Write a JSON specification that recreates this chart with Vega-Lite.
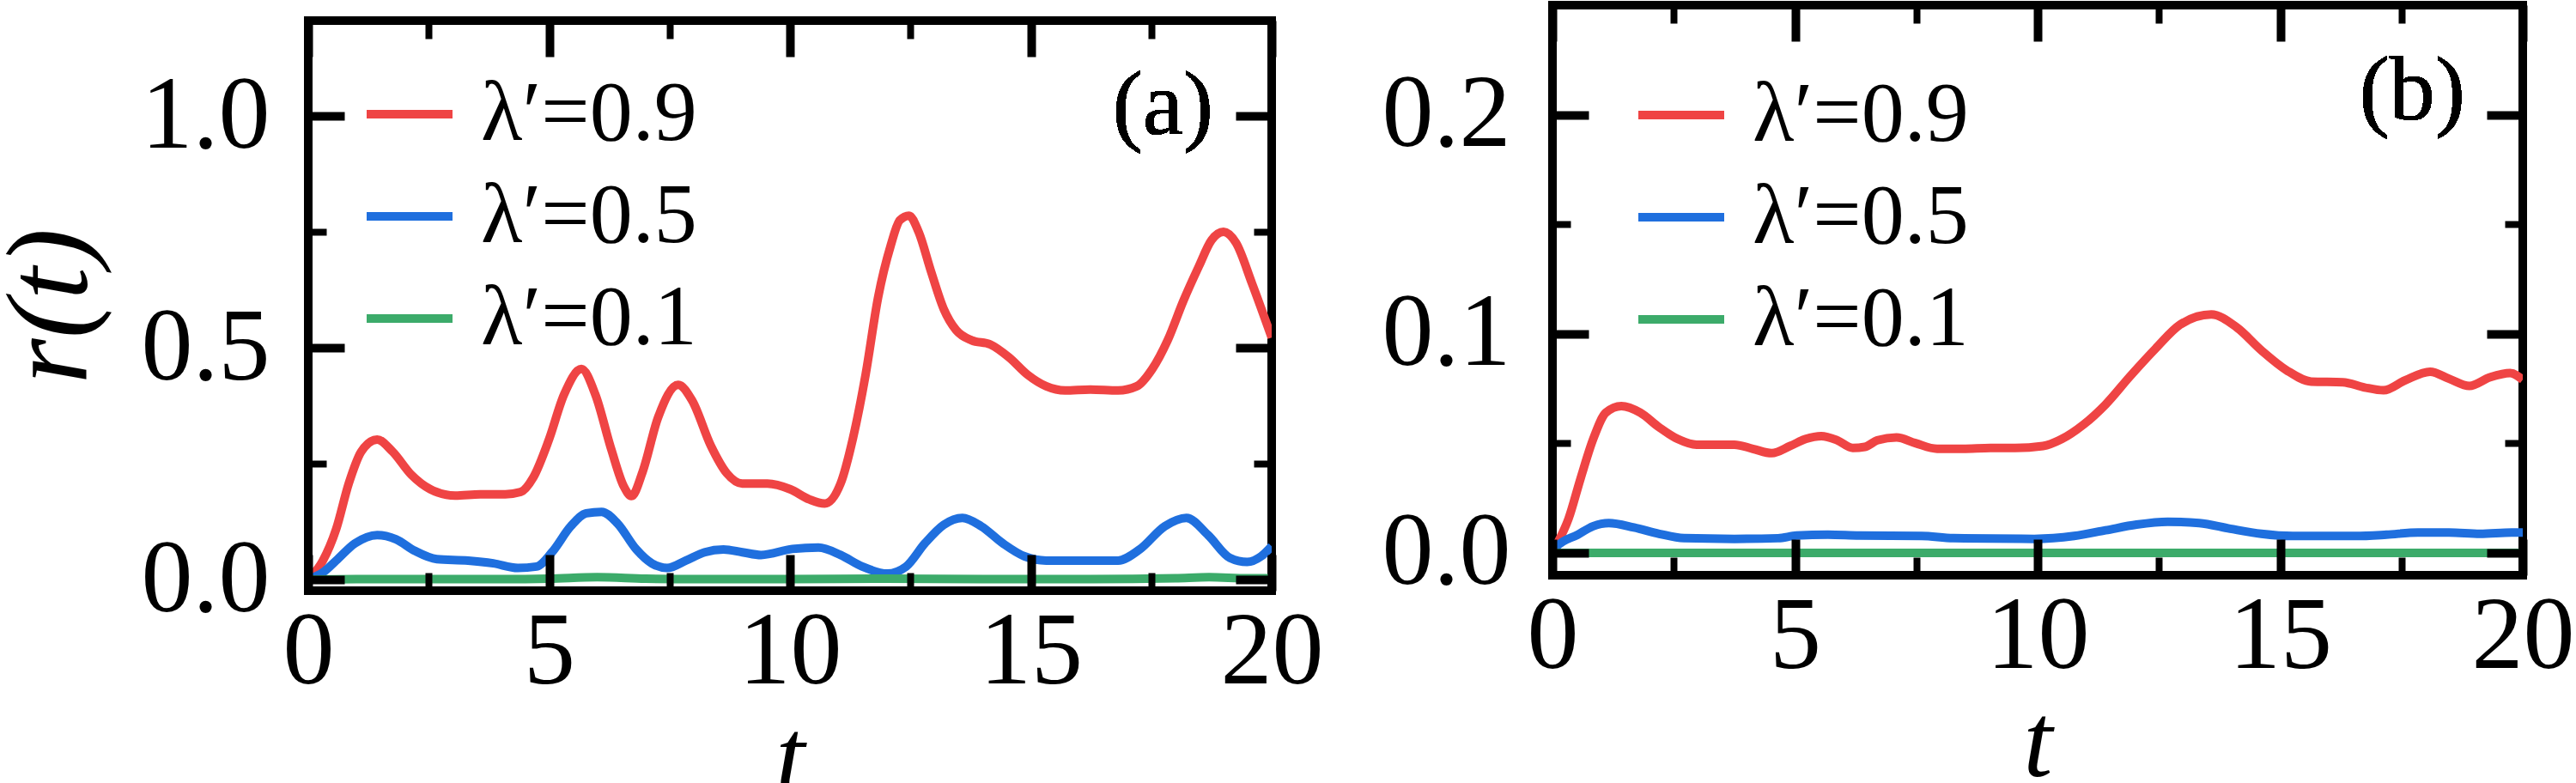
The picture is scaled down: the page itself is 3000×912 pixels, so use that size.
{
  "$schema": "https://vega.github.io/schema/vega-lite/v6.json",
  "padding": {"left": -14, "top": -4, "right": 0, "bottom": 0},
  "config": {
    "view": {"stroke": "black", "strokeWidth": 10},
    "font": "Liberation Serif",
    "axis": {
      "domain": false, "grid": false,
      "labelFont": "Liberation Serif", "labelFontSize": 120, "labelColor": "black",
      "labelFlush": false, "labelOverlap": false, "labelBound": false,
      "tickColor": "black", "tickCap": "butt",
      "titleFont": "Liberation Serif", "titleFontStyle": "italic", "titleFontWeight": "normal",
      "titleFontSize": 122, "titleColor": "black"
    },
    "legend": {
      "orient": "none", "padding": 0, "title": null,
      "labelFont": "Liberation Serif", "labelFontSize": 100, "labelColor": "black", "labelLimit": 0,
      "symbolType": "stroke", "symbolSize": 10000, "symbolStrokeWidth": 10,
      "rowPadding": 14, "labelOffset": 28
    }
  },
  "datasets": {
    "a": [
      {"t": 0, "r": 0, "s": "λ′=0.9"}, {"t": 0.3, "r": 0.04, "s": "λ′=0.9"}, {"t": 0.58, "r": 0.109, "s": "λ′=0.9"},
      {"t": 0.84, "r": 0.207, "s": "λ′=0.9"}, {"t": 1.1, "r": 0.276, "s": "λ′=0.9"}, {"t": 1.43, "r": 0.302, "s": "λ′=0.9"},
      {"t": 1.75, "r": 0.276, "s": "λ′=0.9"}, {"t": 2.14, "r": 0.226, "s": "λ′=0.9"}, {"t": 2.53, "r": 0.195, "s": "λ′=0.9"},
      {"t": 3.05, "r": 0.181, "s": "λ′=0.9"}, {"t": 3.57, "r": 0.184, "s": "λ′=0.9"}, {"t": 4.09, "r": 0.184, "s": "λ′=0.9"},
      {"t": 4.41, "r": 0.189, "s": "λ′=0.9"}, {"t": 4.67, "r": 0.22, "s": "λ′=0.9"}, {"t": 4.99, "r": 0.3, "s": "λ′=0.9"},
      {"t": 5.31, "r": 0.399, "s": "λ′=0.9"}, {"t": 5.67, "r": 0.454, "s": "λ′=0.9"}, {"t": 5.96, "r": 0.399, "s": "λ′=0.9"},
      {"t": 6.29, "r": 0.281, "s": "λ′=0.9"}, {"t": 6.55, "r": 0.201, "s": "λ′=0.9"}, {"t": 6.71, "r": 0.18, "s": "λ′=0.9"},
      {"t": 6.94, "r": 0.232, "s": "λ′=0.9"}, {"t": 7.26, "r": 0.349, "s": "λ′=0.9"}, {"t": 7.68, "r": 0.42, "s": "λ′=0.9"},
      {"t": 7.97, "r": 0.386, "s": "λ′=0.9"}, {"t": 8.36, "r": 0.288, "s": "λ′=0.9"}, {"t": 8.69, "r": 0.229, "s": "λ′=0.9"},
      {"t": 9.01, "r": 0.207, "s": "λ′=0.9"}, {"t": 9.53, "r": 0.207, "s": "λ′=0.9"}, {"t": 10.0, "r": 0.195, "s": "λ′=0.9"},
      {"t": 10.4, "r": 0.173, "s": "λ′=0.9"}, {"t": 10.72, "r": 0.164, "s": "λ′=0.9"}, {"t": 11.05, "r": 0.207, "s": "λ′=0.9"},
      {"t": 11.31, "r": 0.306, "s": "λ′=0.9"}, {"t": 11.57, "r": 0.442, "s": "λ′=0.9"}, {"t": 11.83, "r": 0.609, "s": "λ′=0.9"},
      {"t": 12.09, "r": 0.72, "s": "λ′=0.9"}, {"t": 12.28, "r": 0.775, "s": "λ′=0.9"}, {"t": 12.47, "r": 0.785, "s": "λ′=0.9"},
      {"t": 12.67, "r": 0.75, "s": "λ′=0.9"}, {"t": 12.93, "r": 0.664, "s": "λ′=0.9"}, {"t": 13.19, "r": 0.584, "s": "λ′=0.9"},
      {"t": 13.45, "r": 0.538, "s": "λ′=0.9"}, {"t": 13.77, "r": 0.516, "s": "λ′=0.9"}, {"t": 14.16, "r": 0.507, "s": "λ′=0.9"},
      {"t": 14.55, "r": 0.479, "s": "λ′=0.9"}, {"t": 14.93, "r": 0.442, "s": "λ′=0.9"}, {"t": 15.32, "r": 0.417, "s": "λ′=0.9"},
      {"t": 15.71, "r": 0.408, "s": "λ′=0.9"}, {"t": 16.23, "r": 0.41, "s": "λ′=0.9"}, {"t": 16.81, "r": 0.408, "s": "λ′=0.9"},
      {"t": 17.2, "r": 0.417, "s": "λ′=0.9"}, {"t": 17.52, "r": 0.454, "s": "λ′=0.9"}, {"t": 17.84, "r": 0.516, "s": "λ′=0.9"},
      {"t": 18.17, "r": 0.602, "s": "λ′=0.9"}, {"t": 18.49, "r": 0.676, "s": "λ′=0.9"}, {"t": 18.75, "r": 0.732, "s": "λ′=0.9"},
      {"t": 19.0, "r": 0.75, "s": "λ′=0.9"}, {"t": 19.26, "r": 0.726, "s": "λ′=0.9"}, {"t": 19.59, "r": 0.639, "s": "λ′=0.9"},
      {"t": 20.0, "r": 0.522, "s": "λ′=0.9"},
      {"t": 0, "r": 0, "s": "λ′=0.5"}, {"t": 0.3, "r": 0.015, "s": "λ′=0.5"}, {"t": 0.58, "r": 0.041, "s": "λ′=0.5"},
      {"t": 0.97, "r": 0.078, "s": "λ′=0.5"}, {"t": 1.43, "r": 0.096, "s": "λ′=0.5"}, {"t": 1.82, "r": 0.087, "s": "λ′=0.5"},
      {"t": 2.21, "r": 0.062, "s": "λ′=0.5"}, {"t": 2.67, "r": 0.044, "s": "λ′=0.5"}, {"t": 3.32, "r": 0.041, "s": "λ′=0.5"},
      {"t": 3.84, "r": 0.035, "s": "λ′=0.5"}, {"t": 4.35, "r": 0.025, "s": "λ′=0.5"}, {"t": 4.74, "r": 0.028, "s": "λ′=0.5"},
      {"t": 5.06, "r": 0.059, "s": "λ′=0.5"}, {"t": 5.45, "r": 0.115, "s": "λ′=0.5"}, {"t": 5.77, "r": 0.143, "s": "λ′=0.5"},
      {"t": 6.09, "r": 0.146, "s": "λ′=0.5"}, {"t": 6.42, "r": 0.121, "s": "λ′=0.5"}, {"t": 6.81, "r": 0.065, "s": "λ′=0.5"},
      {"t": 7.13, "r": 0.035, "s": "λ′=0.5"}, {"t": 7.45, "r": 0.025, "s": "λ′=0.5"}, {"t": 7.84, "r": 0.041, "s": "λ′=0.5"},
      {"t": 8.23, "r": 0.059, "s": "λ′=0.5"}, {"t": 8.62, "r": 0.065, "s": "λ′=0.5"}, {"t": 9.01, "r": 0.059, "s": "λ′=0.5"},
      {"t": 9.4, "r": 0.053, "s": "λ′=0.5"}, {"t": 10.05, "r": 0.066, "s": "λ′=0.5"}, {"t": 10.59, "r": 0.069, "s": "λ′=0.5"},
      {"t": 11.05, "r": 0.053, "s": "λ′=0.5"}, {"t": 11.5, "r": 0.028, "s": "λ′=0.5"}, {"t": 12.02, "r": 0.013, "s": "λ′=0.5"},
      {"t": 12.41, "r": 0.028, "s": "λ′=0.5"}, {"t": 12.8, "r": 0.078, "s": "λ′=0.5"}, {"t": 13.19, "r": 0.118, "s": "λ′=0.5"},
      {"t": 13.58, "r": 0.133, "s": "λ′=0.5"}, {"t": 13.97, "r": 0.115, "s": "λ′=0.5"}, {"t": 14.42, "r": 0.078, "s": "λ′=0.5"},
      {"t": 14.87, "r": 0.05, "s": "λ′=0.5"}, {"t": 15.32, "r": 0.041, "s": "λ′=0.5"}, {"t": 16.23, "r": 0.041, "s": "λ′=0.5"},
      {"t": 16.81, "r": 0.041, "s": "λ′=0.5"}, {"t": 17.26, "r": 0.065, "s": "λ′=0.5"}, {"t": 17.78, "r": 0.115, "s": "λ′=0.5"},
      {"t": 18.23, "r": 0.133, "s": "λ′=0.5"}, {"t": 18.68, "r": 0.096, "s": "λ′=0.5"}, {"t": 19.13, "r": 0.047, "s": "λ′=0.5"},
      {"t": 19.49, "r": 0.038, "s": "λ′=0.5"}, {"t": 19.78, "r": 0.05, "s": "λ′=0.5"}, {"t": 20.0, "r": 0.072, "s": "λ′=0.5"},
      {"t": 0, "r": 0, "s": "λ′=0.1"}, {"t": 1, "r": 0.001, "s": "λ′=0.1"}, {"t": 2, "r": 0.001, "s": "λ′=0.1"},
      {"t": 3, "r": 0.001, "s": "λ′=0.1"}, {"t": 4, "r": 0.001, "s": "λ′=0.1"}, {"t": 5, "r": 0.002, "s": "λ′=0.1"},
      {"t": 6, "r": 0.005, "s": "λ′=0.1"}, {"t": 7, "r": 0.002, "s": "λ′=0.1"}, {"t": 8, "r": 0.001, "s": "λ′=0.1"},
      {"t": 10, "r": 0.001, "s": "λ′=0.1"}, {"t": 12, "r": 0.002, "s": "λ′=0.1"}, {"t": 14, "r": 0.001, "s": "λ′=0.1"},
      {"t": 16, "r": 0.001, "s": "λ′=0.1"}, {"t": 18, "r": 0.003, "s": "λ′=0.1"}, {"t": 18.7, "r": 0.005, "s": "λ′=0.1"},
      {"t": 19.5, "r": 0.003, "s": "λ′=0.1"}, {"t": 20, "r": 0.003, "s": "λ′=0.1"}
    ],
    "b": [
      {"t": 0, "r": 0, "s": "λ′=0.9"}, {"t": 0.07, "r": 0.003, "s": "λ′=0.9"}, {"t": 0.33, "r": 0.0155, "s": "λ′=0.9"},
      {"t": 0.58, "r": 0.034, "s": "λ′=0.9"}, {"t": 0.84, "r": 0.052, "s": "λ′=0.9"}, {"t": 1.1, "r": 0.064, "s": "λ′=0.9"},
      {"t": 1.42, "r": 0.067, "s": "λ′=0.9"}, {"t": 1.81, "r": 0.064, "s": "λ′=0.9"}, {"t": 2.2, "r": 0.0573, "s": "λ′=0.9"},
      {"t": 2.58, "r": 0.052, "s": "λ′=0.9"}, {"t": 2.97, "r": 0.0494, "s": "λ′=0.9"}, {"t": 3.75, "r": 0.0494, "s": "λ′=0.9"},
      {"t": 4.13, "r": 0.0475, "s": "λ′=0.9"}, {"t": 4.52, "r": 0.0455, "s": "λ′=0.9"}, {"t": 4.9, "r": 0.0488, "s": "λ′=0.9"},
      {"t": 5.22, "r": 0.052, "s": "λ′=0.9"}, {"t": 5.54, "r": 0.0533, "s": "λ′=0.9"}, {"t": 5.87, "r": 0.0514, "s": "λ′=0.9"},
      {"t": 6.19, "r": 0.0479, "s": "λ′=0.9"}, {"t": 6.44, "r": 0.0484, "s": "λ′=0.9"}, {"t": 6.7, "r": 0.0514, "s": "λ′=0.9"},
      {"t": 7.09, "r": 0.0527, "s": "λ′=0.9"}, {"t": 7.48, "r": 0.0501, "s": "λ′=0.9"}, {"t": 7.93, "r": 0.0475, "s": "λ′=0.9"},
      {"t": 8.45, "r": 0.0475, "s": "λ′=0.9"}, {"t": 9.03, "r": 0.0479, "s": "λ′=0.9"}, {"t": 9.54, "r": 0.0479, "s": "λ′=0.9"},
      {"t": 10.11, "r": 0.0488, "s": "λ′=0.9"}, {"t": 10.5, "r": 0.052, "s": "λ′=0.9"}, {"t": 10.95, "r": 0.0586, "s": "λ′=0.9"},
      {"t": 11.4, "r": 0.0677, "s": "λ′=0.9"}, {"t": 11.91, "r": 0.0807, "s": "λ′=0.9"}, {"t": 12.43, "r": 0.0932, "s": "λ′=0.9"},
      {"t": 12.94, "r": 0.1042, "s": "λ′=0.9"}, {"t": 13.58, "r": 0.1088, "s": "λ′=0.9"}, {"t": 14.1, "r": 0.103, "s": "λ′=0.9"},
      {"t": 14.61, "r": 0.0925, "s": "λ′=0.9"}, {"t": 15.13, "r": 0.0834, "s": "λ′=0.9"}, {"t": 15.64, "r": 0.0782, "s": "λ′=0.9"},
      {"t": 16.29, "r": 0.0779, "s": "λ′=0.9"}, {"t": 16.74, "r": 0.0755, "s": "λ′=0.9"}, {"t": 17.13, "r": 0.0742, "s": "λ′=0.9"},
      {"t": 17.58, "r": 0.0788, "s": "λ′=0.9"}, {"t": 18.09, "r": 0.0827, "s": "λ′=0.9"}, {"t": 18.48, "r": 0.0795, "s": "λ′=0.9"},
      {"t": 18.9, "r": 0.0762, "s": "λ′=0.9"}, {"t": 19.32, "r": 0.0801, "s": "λ′=0.9"}, {"t": 19.74, "r": 0.0821, "s": "λ′=0.9"},
      {"t": 20.0, "r": 0.079, "s": "λ′=0.9"},
      {"t": 0, "r": 0, "s": "λ′=0.5"}, {"t": 0.07, "r": 0.0025, "s": "λ′=0.5"}, {"t": 0.52, "r": 0.0083, "s": "λ′=0.5"},
      {"t": 0.84, "r": 0.0122, "s": "λ′=0.5"}, {"t": 1.16, "r": 0.0136, "s": "λ′=0.5"}, {"t": 1.68, "r": 0.0116, "s": "λ′=0.5"},
      {"t": 2.2, "r": 0.0087, "s": "λ′=0.5"}, {"t": 2.71, "r": 0.0067, "s": "λ′=0.5"}, {"t": 3.75, "r": 0.0064, "s": "λ′=0.5"},
      {"t": 4.65, "r": 0.0067, "s": "λ′=0.5"}, {"t": 5.03, "r": 0.0079, "s": "λ′=0.5"}, {"t": 5.68, "r": 0.0083, "s": "λ′=0.5"},
      {"t": 6.32, "r": 0.0079, "s": "λ′=0.5"}, {"t": 7.61, "r": 0.0077, "s": "λ′=0.5"}, {"t": 8.26, "r": 0.0067, "s": "λ′=0.5"},
      {"t": 9.93, "r": 0.0064, "s": "λ′=0.5"}, {"t": 10.75, "r": 0.0077, "s": "λ′=0.5"}, {"t": 11.4, "r": 0.0103, "s": "λ′=0.5"},
      {"t": 12.04, "r": 0.0129, "s": "λ′=0.5"}, {"t": 12.68, "r": 0.0142, "s": "λ′=0.5"}, {"t": 13.33, "r": 0.0136, "s": "λ′=0.5"},
      {"t": 13.97, "r": 0.011, "s": "λ′=0.5"}, {"t": 14.61, "r": 0.0087, "s": "λ′=0.5"}, {"t": 15.26, "r": 0.0077, "s": "λ′=0.5"},
      {"t": 16.55, "r": 0.0077, "s": "λ′=0.5"}, {"t": 17.19, "r": 0.0083, "s": "λ′=0.5"}, {"t": 17.84, "r": 0.0093, "s": "λ′=0.5"},
      {"t": 18.48, "r": 0.0093, "s": "λ′=0.5"}, {"t": 19.12, "r": 0.0087, "s": "λ′=0.5"}, {"t": 19.77, "r": 0.0093, "s": "λ′=0.5"},
      {"t": 20.0, "r": 0.0093, "s": "λ′=0.5"},
      {"t": 0, "r": 0, "s": "λ′=0.1"}, {"t": 5, "r": 0, "s": "λ′=0.1"}, {"t": 10, "r": 0, "s": "λ′=0.1"},
      {"t": 15, "r": 0, "s": "λ′=0.1"}, {"t": 20, "r": 0, "s": "λ′=0.1"}
    ]
  },
  "resolve": {"scale": {"x": "independent", "y": "independent", "color": "independent"}, "legend": {"color": "independent"}},
  "spacing": 58,
  "hconcat": [
    {
      "spacing": 7,
      "vconcat": [
        {
          "width": 1122,
          "height": 1,
          "view": {"stroke": null},
          "data": {"values": []},
          "mark": "point"
        },
        {
          "width": 1122,
          "height": 664,
          "data": {"name": "a"},
          "resolve": {"axis": {"x": "independent", "y": "independent"}},
          "layer": [
            {
              "mark": {"type": "line", "strokeWidth": 10, "interpolate": "monotone", "clip": true},
              "encoding": {
                "x": {"field": "t", "type": "quantitative", "scale": {"domain": [0, 20], "nice": false, "zero": false},
                  "axis": {"orient": "bottom", "values": [0, 5, 10, 15, 20], "ticks": false, "tickSize": 0, "labelPadding": 12, "title": "t", "titlePadding": 6}},
                "y": {"field": "r", "type": "quantitative", "scale": {"domain": [-0.024, 1.2056], "nice": false, "zero": false},
                  "axis": {"orient": "left", "values": [0, 0.5, 1.0], "format": ".1f", "ticks": false, "tickSize": 0, "labelPadding": 45, "title": "r(t)", "titleFontSize": 136, "titlePadding": 35}},
                "color": {"field": "s", "type": "nominal",
                  "scale": {"domain": ["λ′=0.9", "λ′=0.5", "λ′=0.1"], "range": ["#ef4444", "#1f6fde", "#3cab6a"]},
                  "legend": {"legendX": 63, "legendY": 72}}
              }
            },
            {
              "mark": {"type": "point", "opacity": 0},
              "encoding": {
                "x": {"field": "t", "type": "quantitative", "axis": {"orient": "bottom", "values": [0, 5, 10, 15, 20], "labels": false, "title": null, "tickSize": -42, "tickWidth": 10, "zindex": 1}},
                "y": {"field": "r", "type": "quantitative", "axis": {"orient": "left", "values": [0, 0.5, 1.0], "labels": false, "title": null, "tickSize": -42, "tickWidth": 10, "zindex": 1}}
              }
            },
            {
              "mark": {"type": "point", "opacity": 0},
              "encoding": {
                "x": {"field": "t", "type": "quantitative", "axis": {"orient": "bottom", "values": [2.5, 7.5, 12.5, 17.5], "labels": false, "title": null, "tickSize": -21, "tickWidth": 8, "zindex": 1}},
                "y": {"field": "r", "type": "quantitative", "axis": {"orient": "left", "values": [0.25, 0.75], "labels": false, "title": null, "tickSize": -21, "tickWidth": 8, "zindex": 1}}
              }
            },
            {
              "mark": {"type": "point", "opacity": 0},
              "encoding": {
                "x": {"field": "t", "type": "quantitative", "axis": {"orient": "top", "values": [0, 5, 10, 15, 20], "labels": false, "title": null, "tickSize": -42, "tickWidth": 10, "zindex": 1}},
                "y": {"field": "r", "type": "quantitative", "axis": {"orient": "right", "values": [0, 0.5, 1.0], "labels": false, "title": null, "tickSize": -42, "tickWidth": 10, "zindex": 1}}
              }
            },
            {
              "mark": {"type": "point", "opacity": 0},
              "encoding": {
                "x": {"field": "t", "type": "quantitative", "axis": {"orient": "top", "values": [2.5, 7.5, 12.5, 17.5], "labels": false, "title": null, "tickSize": -21, "tickWidth": 8, "zindex": 1}},
                "y": {"field": "r", "type": "quantitative", "axis": {"orient": "right", "values": [0.25, 0.75], "labels": false, "title": null, "tickSize": -21, "tickWidth": 8, "zindex": 1}}
              }
            },
            {
              "mark": {"type": "text", "text": "(a)", "fontSize": 106, "font": "Liberation Serif", "align": "center", "baseline": "middle", "color": "black"},
              "encoding": {
                "x": {"datum": 17.74, "type": "quantitative", "axis": null},
                "y": {"datum": 1.02, "type": "quantitative", "axis": null}
              }
            }
          ]
        }
      ]
    },
    {
      "width": 1130,
      "height": 664,
      "data": {"name": "b"},
      "resolve": {"axis": {"x": "independent", "y": "independent"}},
      "layer": [
        {
          "mark": {"type": "line", "strokeWidth": 10, "interpolate": "monotone", "clip": true},
          "encoding": {
            "x": {"field": "t", "type": "quantitative", "scale": {"domain": [0, 20], "nice": false, "zero": false},
              "axis": {"orient": "bottom", "values": [0, 5, 10, 15, 20], "ticks": false, "tickSize": 0, "labelPadding": 12, "title": "t", "titlePadding": 6}},
            "y": {"field": "r", "type": "quantitative", "scale": {"domain": [-0.0102, 0.25], "nice": false, "zero": false},
              "axis": {"orient": "left", "values": [0, 0.1, 0.2], "format": ".1f", "ticks": false, "tickSize": 0, "labelPadding": 49, "title": null}},
            "color": {"field": "s", "type": "nominal",
              "scale": {"domain": ["λ′=0.9", "λ′=0.5", "λ′=0.1"], "range": ["#ef4444", "#1f6fde", "#3cab6a"]},
              "legend": {"legendX": 95, "legendY": 73}}
          }
        },
        {
          "mark": {"type": "point", "opacity": 0},
          "encoding": {
            "x": {"field": "t", "type": "quantitative", "axis": {"orient": "bottom", "values": [0, 5, 10, 15, 20], "labels": false, "title": null, "tickSize": -42, "tickWidth": 10, "zindex": 1}},
            "y": {"field": "r", "type": "quantitative", "axis": {"orient": "left", "values": [0, 0.1, 0.2], "labels": false, "title": null, "tickSize": -42, "tickWidth": 10, "zindex": 1}}
          }
        },
        {
          "mark": {"type": "point", "opacity": 0},
          "encoding": {
            "x": {"field": "t", "type": "quantitative", "axis": {"orient": "bottom", "values": [2.5, 7.5, 12.5, 17.5], "labels": false, "title": null, "tickSize": -21, "tickWidth": 8, "zindex": 1}},
            "y": {"field": "r", "type": "quantitative", "axis": {"orient": "left", "values": [0.05, 0.15], "labels": false, "title": null, "tickSize": -21, "tickWidth": 8, "zindex": 1}}
          }
        },
        {
          "mark": {"type": "point", "opacity": 0},
          "encoding": {
            "x": {"field": "t", "type": "quantitative", "axis": {"orient": "top", "values": [0, 5, 10, 15, 20], "labels": false, "title": null, "tickSize": -42, "tickWidth": 10, "zindex": 1}},
            "y": {"field": "r", "type": "quantitative", "axis": {"orient": "right", "values": [0, 0.1, 0.2], "labels": false, "title": null, "tickSize": -42, "tickWidth": 10, "zindex": 1}}
          }
        },
        {
          "mark": {"type": "point", "opacity": 0},
          "encoding": {
            "x": {"field": "t", "type": "quantitative", "axis": {"orient": "top", "values": [2.5, 7.5, 12.5, 17.5], "labels": false, "title": null, "tickSize": -21, "tickWidth": 8, "zindex": 1}},
            "y": {"field": "r", "type": "quantitative", "axis": {"orient": "right", "values": [0.05, 0.15], "labels": false, "title": null, "tickSize": -21, "tickWidth": 8, "zindex": 1}}
          }
        },
        {
          "mark": {"type": "text", "text": "(b)", "fontSize": 106, "font": "Liberation Serif", "align": "center", "baseline": "middle", "color": "black"},
          "encoding": {
            "x": {"datum": 17.72, "type": "quantitative", "axis": null},
            "y": {"datum": 0.2106, "type": "quantitative", "axis": null}
          }
        }
      ]
    }
  ]
}
